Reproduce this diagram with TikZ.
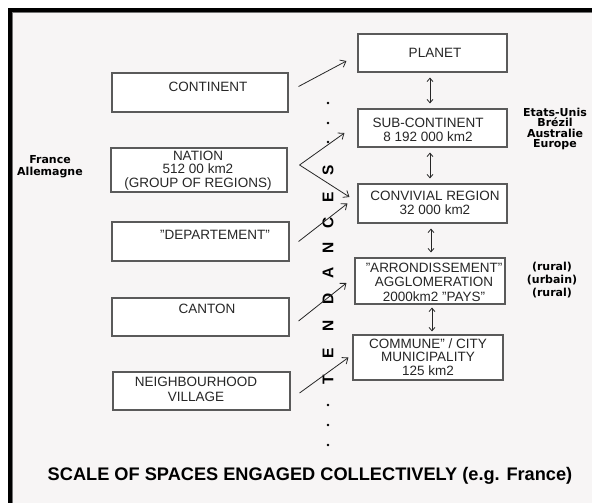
\documentclass[tikz,border=0pt]{standalone}
\usepackage{fontspec}
\setmainfont{Liberation Sans}
\newfontfamily\widefont{DejaVu Sans}
\usetikzlibrary{arrows.meta,calc}
\definecolor{bg}{HTML}{F7F5F5}
\definecolor{boxline}{HTML}{5A5A5A}
\definecolor{txt}{HTML}{262626}
\begin{document}
\begin{tikzpicture}[x=1pt,y=-1pt,
  box/.style={draw=boxline, line width=1.1pt, fill=white, inner sep=0pt},
  boxtext/.style={text=txt, align=center, inner sep=0pt, font=\fontsize{13.5}{13.5}\selectfont},
  side/.style={text=black, align=center, inner sep=0pt, font=\widefont\bfseries\fontsize{11}{10.5}\selectfont},
  tend/.style={text=black, inner sep=0pt, rotate=90, font=\bfseries\fontsize{15.5}{15.5}\selectfont},
  dotmark/.style={circle, fill=black, inner sep=0pt, minimum size=2.6pt},
  arr/.style={draw=txt, line width=0.8pt, -{Straight Barb[length=5pt,width=8pt]}},
  dbl/.style={draw=txt, line width=0.8pt, {Straight Barb[length=3.5pt,width=6pt]}-{Straight Barb[length=3.5pt,width=6pt]}}]
\useasboundingbox (0,0) rectangle (592,503);
\fill[white] (0,0) rectangle (592,503);
\fill[bg] (10,10) rectangle (592,503);
\draw[black!55, line width=1pt] (12.5,503) -- (12.5,12.5) -- (592,12.5);
\draw[black, line width=3.5pt] (10,503) -- (10,10) -- (592,10);

% left boxes
\node[box, minimum width=176pt, minimum height=39pt] (continent) at (200,92.5) {};
\node[box, minimum width=176pt, minimum height=44pt] (nation) at (199,170) {};
\node[box, minimum width=177pt, minimum height=39pt] (departement) at (200.5,241.5) {};
\node[box, minimum width=177pt, minimum height=38pt] (canton) at (200.5,317) {};
\node[box, minimum width=177pt, minimum height=38pt] (neigh) at (201.5,391) {};

\node[boxtext] (tcontinent) at (208,87) {CONTINENT};
\node[boxtext] (tnation) at (198,170.5) {NATION\\512 00 km2\\(GROUP OF REGIONS)};
\node[boxtext] (tdepartement) at (215,235) {"DEPARTEMENT"};
\node[boxtext] (tcanton) at (207,309) {CANTON};
\node[boxtext, font=\fontsize{13.5}{15}\selectfont] (tneigh) at (196,389.5) {NEIGHBOURHOOD\\VILLAGE};

% right boxes
\node[box, minimum width=149pt, minimum height=38pt] (planet) at (432.5,53) {};
\node[box, minimum width=149pt, minimum height=38pt] (sub) at (432.5,128) {};
\node[box, minimum width=149pt, minimum height=39pt] (convivial) at (432.5,203.5) {};
\node[box, minimum width=150pt, minimum height=46pt] (arr) at (430,281) {};
\node[box, minimum width=150pt, minimum height=45pt] (commune) at (428,357.5) {};

\node[boxtext] (tplanet) at (435,53) {PLANET};
\node[boxtext] (tsub) at (428,130) {SUB-CONTINENT\\8 192 000 km2};
\node[boxtext] (tconvivial) at (435,203) {CONVIVIAL REGION\\32 000 km2};
\node[boxtext, font=\fontsize{13.5}{14.5}\selectfont] (tarr) at (434,282) {"ARRONDISSEMENT"\\AGGLOMERATION\\2000km2 "PAYS"};
\node[boxtext] (tcommune) at (428,357) {COMMUNE" / CITY\\MUNICIPALITY\\125 km2};

% side labels
\node[side, font=\widefont\bfseries\fontsize{11}{12}\selectfont] (france) at (50,167) {France\\Allemagne};
\node[side] (etats) at (555,129) {Etats-Unis\\Brézil\\Australie\\Europe};
\node[side, font=\widefont\bfseries\fontsize{11}{13}\selectfont] (rural) at (552,280) {(rural)\\(urbain)\\(rural)};

% TENDANCES column
\node[dotmark] (d1) at (328,103) {};
\node[dotmark] (d2) at (328,123) {};
\node[dotmark] (d3) at (328,142) {};
\node[tend] (lS) at (328,170) {S};
\node[tend] (lE2) at (328,197) {E};
\node[tend] (lC) at (328,223) {C};
\node[tend] (lN2) at (328,248) {N};
\node[tend] (lA) at (328,273) {A};
\node[tend] (lD) at (328,299) {D};
\node[tend] (lN1) at (328,326) {N};
\node[tend] (lE1) at (328,353) {E};
\node[tend] (lT) at (328,380) {T};
\node[dotmark] (d4) at (328,405) {};
\node[dotmark] (d5) at (328,425) {};
\node[dotmark] (d6) at (328,445) {};

% arrows left -> right
\draw[arr] ([shift={(10,-6)}]continent.east) -- ([shift={(-11,8)}]planet.west);
\coordinate (nv) at ([shift={(12,-5)}]nation.east);
\draw[arr] (nv) -- ([shift={(-13,5)}]sub.west);
\draw[arr] (nv) -- ([shift={(-8,-6.5)}]convivial.west);
\draw[arr] ([shift={(9,0)}]departement.east) -- ([shift={(-10,0)}]convivial.west);
\draw[arr] ([shift={(9,4)}]canton.east) -- ([shift={(-8,2)}]arr.west);
\draw[arr] ([shift={(9,2)}]neigh.east) -- ([shift={(-4,0)}]commune.west);

% double arrows
\draw[dbl] ([shift={(-2.5,5)}]planet.south) -- ([shift={(-2.5,-5)}]sub.north);
\draw[dbl] ([shift={(-2.5,5)}]sub.south) -- ([shift={(-2.5,-5)}]convivial.north);
\draw[dbl] ([shift={(-1.5,5)}]convivial.south) -- ([shift={(1,-5)}]arr.north);
\draw[dbl] ([shift={(2,3)}]arr.south) -- ([shift={(4,-3)}]commune.north);

% title
\node[text=black, inner sep=0pt, font=\bfseries\fontsize{18.2}{18.2}\selectfont] (title) at (310,476) {SCALE OF SPACES ENGAGED COLLECTIVELY (e.g. France)};
\end{tikzpicture}
\end{document}
